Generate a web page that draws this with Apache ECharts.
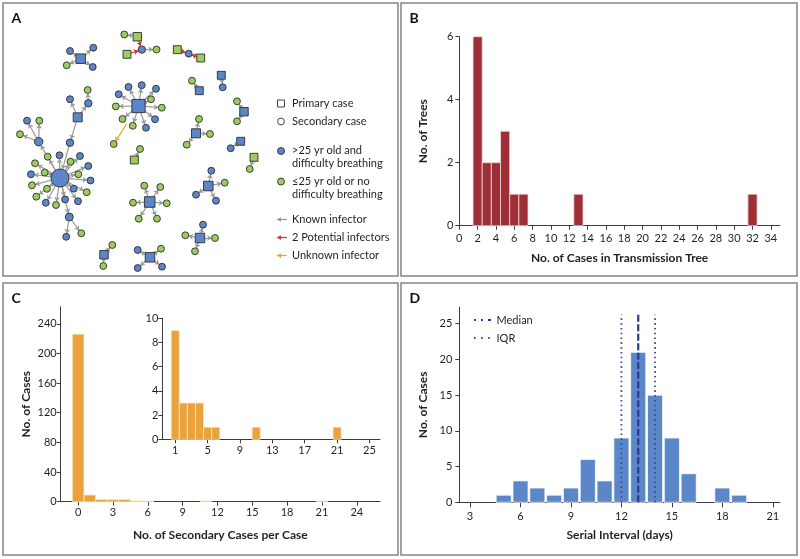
<!DOCTYPE html>
<html><head><meta charset="utf-8">
<script src="https://cdn.jsdelivr.net/npm/echarts@6/dist/echarts.min.js"></script>
<style>html,body{margin:0;padding:0;background:#fff}#c{width:800px;height:559px}</style>
</head><body><div id="c"></div>
<script>
// ---------- Panel B: size of transmission trees ----------
const treeSizes  = [2, 3, 4, 5, 6, 7, 13, 32];
const treeCounts = [6, 2, 2, 3, 1, 1, 1, 1];
const bTicksX = [0,2,4,6,8,10,12,14,16,18,20,22,24,26,28,30,32,34];
const bTicksY = [0,2,4,6];

// ---------- Panel C: secondary cases per case ----------
const secCases  = [0, 1, 2, 3, 4, 5, 6, 11, 21];
const secCounts = [226, 9, 3, 3, 3, 1, 1, 1, 1];
const cTicksX = [0,3,6,9,12,15,18,21,24];
const cTicksY = [0,40,80,120,160,200,240];
const insetTicksX = [1,5,9,13,17,21,25];
const insetTicksY = [0,2,4,6,8,10];

// ---------- Panel D: serial interval ----------
const serialDays   = [5, 6, 7, 8, 9, 10, 11, 12, 13, 14, 15, 16, 17, 18, 19];
const serialCounts = [1, 3, 2, 1, 2, 6, 3, 9, 21, 15, 9, 4, 0, 2, 1];
const medianDay = 13;
const iqrDays = [12, 14];
const dTicksX = [3,6,9,12,15,18,21];
const dTicksY = [0,5,10,15,20,25];

// ---------- Panel A: transmission network (layout coordinates) ----------
// [id, layoutX, layoutY, P=primary/S=secondary/U=unknown source, B=>25 yr & difficulty breathing / G=other]
const netNodes = [
 ['a1',80.7,58.7,'P','B'],['a2',70,51,'S','B'],['a3',93.3,47.7,'S','B'],['a4',66.7,65.3,'S','G'],['a5',92.7,67,'S','B'],
 ['b1',137.3,36.7,'P','G'],['b2',124.3,34.5,'S','G'],['b3',141.8,49.6,'S','B'],['b4',127,54.3,'P','G'],['b5',156.5,49.5,'S','G'],
 ['c1',177.3,49.7,'P','G'],['c2',188.7,53.7,'S','B'],['c3',200.7,58,'P','G'],
 ['d1',199.3,90.7,'P','B'],['d2',192,80.7,'S','G'],
 ['e1',221.3,75.3,'P','B'],['e2',222.7,87.3,'S','B'],
 ['f1',244,111.7,'P','B'],['f2',237,101.3,'S','G'],['f3',237,121.3,'S','G'],
 ['g1',196,133.3,'P','B'],['g2',199,119,'S','G'],['g3',210,134,'S','G'],['g4',186.7,144.7,'S','G'],
 ['h1',240.7,141.3,'P','B'],['h2',230.7,148.3,'S','B'],
 ['i1',254,157.3,'P','G'],['i2',249.7,169,'S','G'],
 ['j1',208.3,186,'P','B'],['j2',211.3,170.7,'S','B'],['j3',224.7,182.7,'S','G'],['j4',196,194.7,'S','B'],['j5',216,200.7,'S','B'],
 ['k1',200,238,'P','B'],['k2',203,224.7,'S','B'],['k3',215,238,'S','G'],['k4',185.3,235.3,'S','G'],['k5',195,251.3,'S','G'],
 ['l1',150,257.3,'P','B'],['l2',161,248.7,'S','G'],['l3',137.7,250,'S','B'],['l4',137.7,268,'S','B'],['l5',162,266.7,'S','B'],
 ['m1',104,254.7,'P','B'],['m2',112.3,245,'S','G'],['m3',103.3,266,'S','G'],
 ['n1',149.7,202,'P','B'],['n2',144.3,185.7,'S','G'],['n3',160.3,187,'S','G'],['n4',133,202.7,'S','G'],['n5',166.7,203.3,'S','G'],['n6',138.7,218.7,'S','G'],['n7',157,218.7,'S','G'],
 ['o1',134.3,160,'P','G'],['o2',140,149,'S','G'],
 ['p0',138.5,106,'P','B'],['p1',128.5,87,'S','B'],['p2',141.7,85.2,'S','B'],['p3',156,88.8,'S','B'],['p4',118.7,94.3,'S','B'],
 ['p5',151,99.3,'S','G'],['p6',115.8,106.4,'S','G'],['p7',161.8,107.7,'S','G'],['p8',122.5,119,'S','G'],['p9',132.8,125.8,'S','G'],
 ['p10',146,127.8,'S','B'],['p11',155,119.2,'S','B'],
 ['q0',126.5,124,'U','B'],['q1',113.7,144,'S','G'],
 ['r1',77.7,117.3,'P','B'],['r2',70,99.2,'S','B'],['r3',88.3,103.3,'S','B'],['r4',87.7,90,'S','G'],['r5',70,142.7,'S','B'],
 ['r6',60,178,'S','B'],['r7',38.7,141.7,'S','B'],['r8',27,120.7,'S','B'],['r9',39.3,120.7,'S','G'],['r10',20,134.2,'S','G'],
 ['s1',47.7,156.7,'S','G'],['s2',59.5,155.3,'S','B'],['s3',80,156,'S','B'],['s4',70.5,161.7,'S','G'],['s5',35,163.3,'S','G'],
 ['s6',44.7,172.5,'S','G'],['s7',88.3,166,'S','B'],['s8',78.3,174.3,'S','G'],['s9',31,174.3,'S','B'],['s10',90.5,180.5,'S','B'],
 ['s11',32,185.3,'S','G'],['s12',47,188.8,'S','G'],['s13',73.8,188.7,'S','B'],['s14',86.7,192.2,'S','G'],['s15',36.3,196.7,'S','G'],
 ['s16',65.1,199.5,'S','B'],['s17',78,201.2,'S','B'],['s18',45.8,202.8,'S','B'],['s19',56,205,'S','G'],['s20',69.3,217,'S','B'],
 ['t1',66.2,236.8,'S','B'],['t2',81.3,233.3,'S','G']
];
// [infector, infectee, K=known / P=2 potential infectors / U=unknown infector]
const netLinks = [
 ['a1','a2','K'],['a1','a3','K'],['a1','a4','K'],['a1','a5','K'],
 ['b1','b2','K'],['b1','b3','P'],['b4','b3','P'],['b3','b5','K'],
 ['c1','c2','P'],['c3','c2','P'],
 ['d1','d2','K'],['e1','e2','K'],['f1','f2','K'],['f1','f3','K'],
 ['g1','g2','K'],['g1','g3','K'],['g1','g4','K'],['h1','h2','K'],['i1','i2','K'],
 ['j1','j2','K'],['j1','j3','K'],['j1','j4','K'],['j1','j5','K'],
 ['k1','k2','K'],['k1','k3','K'],['k1','k4','K'],['k1','k5','K'],
 ['l1','l2','K'],['l1','l3','K'],['l1','l4','K'],['l1','l5','K'],
 ['m1','m2','K'],['m1','m3','K'],
 ['n1','n2','K'],['n1','n3','K'],['n1','n4','K'],['n1','n5','K'],['n1','n6','K'],['n1','n7','K'],
 ['o1','o2','K'],
 ['p0','p1','K'],['p0','p2','K'],['p0','p3','K'],['p0','p4','K'],['p0','p5','K'],['p0','p6','K'],
 ['p0','p7','K'],['p0','p8','K'],['p0','p9','K'],['p0','p10','K'],['p0','p11','K'],
 ['q0','q1','U'],
 ['r1','r2','K'],['r1','r3','K'],['r3','r4','K'],['r1','r5','K'],['r5','r6','K'],
 ['r6','r7','K'],['r7','r8','K'],['r7','r9','K'],['r7','r10','K'],
 ['r6','s1','K'],['r6','s2','K'],['r6','s3','K'],['r6','s4','K'],['r6','s5','K'],['r6','s6','K'],['r6','s7','K'],
 ['r6','s8','K'],['r6','s9','K'],['r6','s10','K'],['r6','s11','K'],['r6','s12','K'],['r6','s13','K'],['r6','s14','K'],
 ['r6','s15','K'],['r6','s16','K'],['r6','s17','K'],['r6','s18','K'],['r6','s19','K'],['r6','s20','K'],
 ['s20','t1','K'],['s20','t2','K']
];

// ---------- styling ----------
const FONT = 'Lato';
const AXIS_COL = '#3c3c3c';
const LBL_COL = '#231f20';
const BLUE_NODE = '#5b86c8', GREEN_NODE = '#9dcb5d';
const LINK_COL = {K:'#999999', P:'#d0312d', U:'#f0a030'};
const BAR_B = '#9e2f37', BAR_C = '#e9a23c', BAR_D = '#5b87c8';
const TICK_FS = 11, NAME_FS = 12;

const idIndex = {};
netNodes.forEach((n, i) => idIndex[n[0]] = i);
const outDeg = netNodes.map(() => 0);
netLinks.forEach(l => { if (l[2] !== 'U') outDeg[idIndex[l[0]]]++; });

const graphData = netNodes.map((n, i) => {
  const isU = n[3] === 'U';
  const isP = n[3] === 'P';
  const size = (isP ? 7.4 : 6.9) + 0.53 * outDeg[i];
  return {
    name: n[0],
    value: [n[1], n[2]],
    symbol: isP ? 'rect' : 'circle',
    symbolSize: isU ? 0.1 : size,
    itemStyle: isU ? {opacity: 0} : {
      color: n[4] === 'B' ? BLUE_NODE : GREEN_NODE,
      borderColor: '#2e2e2e', borderWidth: 0.9
    }
  };
});
const graphLinks = netLinks.map(l => ({
  source: idIndex[l[0]], target: idIndex[l[1]],
  lineStyle: {color: LINK_COL[l[2]], width: 1.2, opacity: 1}
}));

function lbl(ticks, margin) {
  return {customValues: ticks, color: LBL_COL, fontSize: TICK_FS, fontFamily: FONT, margin: margin};
}
function axisCommon(ticks, extra) {
  return Object.assign({
    type: 'value',
    splitLine: {show: false},
    axisLine: {show: true, onZero: false, lineStyle: {color: AXIS_COL, width: 1}},
    axisTick: {show: true, length: 4, customValues: ticks, lineStyle: {color: AXIS_COL, width: 1}},
    axisLabel: lbl(ticks, 6),
    nameTextStyle: {color: LBL_COL, fontSize: NAME_FS, fontWeight: 'bold', fontFamily: FONT},
    nameLocation: 'middle'
  }, extra);
}

function barRenderer(widthFrac, color, stroke) {
  return function (params, api) {
    const x = api.value(0), y = api.value(1);
    if (!y) return null;
    const p0 = api.coord([x - widthFrac / 2, y]);
    const p1 = api.coord([x + widthFrac / 2, 0]);
    return {
      type: 'rect',
      shape: {x: p0[0], y: p0[1], width: p1[0] - p0[0], height: p1[1] - p0[1]},
      style: {fill: color, stroke: stroke, lineWidth: 0.8}
    };
  };
}

const bData = treeSizes.map((s, i) => [s, treeCounts[i]]);
const cData = secCases.map((s, i) => [s, secCounts[i]]);
const insetData = cData.filter(d => d[0] >= 1);
const dData = serialDays.map((s, i) => [s, serialCounts[i]]);

const refTop = 26.3;

const option = {
  animation: false,
  backgroundColor: '#fff',
  textStyle: {fontFamily: FONT},
  grid: [
    {left: 0, top: 0, width: 400, height: 280},
    {left: 459.3, right: 20, top: 36.7, bottom: 333.3},
    {left: 60.7, right: 420, top: 306.7, bottom: 57.3},
    {left: 162.3, right: 420, top: 318.3, bottom: 119.7},
    {left: 459.3, right: 20, top: 307.3, bottom: 56.7}
  ],
  xAxis: [
    {type: 'value', gridIndex: 0, min: 0, max: 400, show: false},
    axisCommon(bTicksX, {gridIndex: 1, min: 0, max: 35, name: 'No. of Cases in Transmission Tree', nameGap: 26, axisLabel: lbl(bTicksX, 7)}),
    axisCommon(cTicksX, {gridIndex: 2, min: -1.5, max: 26, name: 'No. of Secondary Cases per Case', nameGap: 27, axisLabel: lbl(cTicksX, 5)}),
    axisCommon(insetTicksX, {gridIndex: 3, min: -0.6, max: 26.3, axisLabel: lbl(insetTicksX, 6)}),
    axisCommon(dTicksX, {gridIndex: 4, min: 2.36, max: 21.43, name: 'Serial Interval (days)', nameGap: 27, axisTick: {show: true, length: 5, customValues: dTicksX, lineStyle: {color: AXIS_COL}}, axisLabel: lbl(dTicksX, 9)})
  ],
  yAxis: [
    {type: 'value', gridIndex: 0, min: 0, max: 280, inverse: true, show: false},
    axisCommon(bTicksY, {gridIndex: 1, min: 0, max: 6, name: 'No. of Trees', nameGap: 30}),
    axisCommon(cTicksY, {gridIndex: 2, min: 0, max: 263, name: 'No. of Cases', nameGap: 29, axisLabel: lbl(cTicksY, 4)}),
    axisCommon(insetTicksY, {gridIndex: 3, min: 0, max: 10, axisLabel: lbl(insetTicksY, 4)}),
    axisCommon(dTicksY, {gridIndex: 4, min: 0, max: 27.3, name: 'No. of Cases', nameGap: 30, axisLabel: lbl(dTicksY, 7)})
  ],
  series: [
    {
      type: 'graph', coordinateSystem: 'cartesian2d', xAxisIndex: 0, yAxisIndex: 0,
      layout: 'none', roam: false,
      edgeSymbol: ['none', 'arrow'], edgeSymbolSize: [0, 4.5],
      data: graphData, links: graphLinks,
      label: {show: false}, emphasis: {disabled: true}, z: 3
    },
    {type: 'custom', xAxisIndex: 1, yAxisIndex: 1, data: bData, encode: {x: 0, y: 1}, renderItem: barRenderer(1, BAR_B, '#f3dada')},
    {type: 'custom', xAxisIndex: 2, yAxisIndex: 2, data: cData, encode: {x: 0, y: 1}, renderItem: barRenderer(1, BAR_C, '#fbe6c6')},
    {type: 'custom', xAxisIndex: 3, yAxisIndex: 3, data: insetData, encode: {x: 0, y: 1}, renderItem: barRenderer(1, BAR_C, '#fbe6c6')},
    {type: 'custom', xAxisIndex: 4, yAxisIndex: 4, data: dData, encode: {x: 0, y: 1}, renderItem: barRenderer(0.9, BAR_D, '#ffffff')},
    {type: 'line', xAxisIndex: 4, yAxisIndex: 4, symbol: 'none', z: 5,
     data: [[medianDay, 0], [medianDay, refTop]],
     lineStyle: {color: '#2b3a8f', width: 2.2, type: [7, 2.5]}},
    ...iqrDays.map(d => ({type: 'line', xAxisIndex: 4, yAxisIndex: 4, symbol: 'none', z: 5,
     data: [[d, 0], [d, refTop]],
     lineStyle: {color: '#3a4aa0', width: 1.8, type: [1.6, 3.2]}}))
  ],
  graphic: [
    // panel frames
    {type: 'rect', shape: {x: 3, y: 3, width: 395, height: 273}, style: {fill: 'none', stroke: '#848484', lineWidth: 1.5}, silent: true},
    {type: 'rect', shape: {x: 401, y: 3, width: 396, height: 273}, style: {fill: 'none', stroke: '#848484', lineWidth: 1.5}, silent: true},
    {type: 'rect', shape: {x: 3, y: 283, width: 395, height: 272}, style: {fill: 'none', stroke: '#848484', lineWidth: 1.5}, silent: true},
    {type: 'rect', shape: {x: 401, y: 283, width: 396, height: 272}, style: {fill: 'none', stroke: '#848484', lineWidth: 1.5}, silent: true},
    // panel letters
    {type: 'text', x: 11.5, y: 11, style: {text: 'A', font: 'bold 14px ' + FONT, fill: '#111'}},
    {type: 'text', x: 409.5, y: 11, style: {text: 'B', font: 'bold 14px ' + FONT, fill: '#111'}},
    {type: 'text', x: 11.5, y: 291, style: {text: 'C', font: 'bold 14px ' + FONT, fill: '#111'}},
    {type: 'text', x: 409.5, y: 291, style: {text: 'D', font: 'bold 14px ' + FONT, fill: '#111'}},
    // Panel A legend
    {type: 'rect', shape: {x: 277.5, y: 100, width: 7, height: 7}, style: {fill: '#fff', stroke: '#444', lineWidth: 1}},
    {type: 'circle', shape: {cx: 281, cy: 121.5, r: 3.4}, style: {fill: '#fff', stroke: '#444', lineWidth: 1}},
    {type: 'circle', shape: {cx: 281, cy: 151, r: 3.5}, style: {fill: BLUE_NODE, stroke: '#2e2e2e', lineWidth: 0.9}},
    {type: 'circle', shape: {cx: 281, cy: 181.5, r: 3.5}, style: {fill: GREEN_NODE, stroke: '#2e2e2e', lineWidth: 0.9}},
    {type: 'line', shape: {x1: 280, y1: 219.5, x2: 287, y2: 219.5}, style: {stroke: LINK_COL.K, lineWidth: 1.2}},
    {type: 'polygon', shape: {points: [[276.5, 219.5], [281, 217.3], [281, 221.7]]}, style: {fill: LINK_COL.K}},
    {type: 'line', shape: {x1: 280, y1: 237.5, x2: 287, y2: 237.5}, style: {stroke: LINK_COL.P, lineWidth: 1.2}},
    {type: 'polygon', shape: {points: [[276.5, 237.5], [281, 235.3], [281, 239.7]]}, style: {fill: LINK_COL.P}},
    {type: 'line', shape: {x1: 280, y1: 255.5, x2: 287, y2: 255.5}, style: {stroke: LINK_COL.U, lineWidth: 1.2}},
    {type: 'polygon', shape: {points: [[276.5, 255.5], [281, 253.3], [281, 257.7]]}, style: {fill: LINK_COL.U}},
    {type: 'text', x: 292, y: 103.5, style: {text: 'Primary case', font: '11px ' + FONT, fill: '#231f20', verticalAlign: 'middle'}},
    {type: 'text', x: 292, y: 121.5, style: {text: 'Secondary case', font: '11px ' + FONT, fill: '#231f20', verticalAlign: 'middle'}},
    {type: 'text', x: 292, y: 150.2, style: {text: '>25 yr old and', font: '11px ' + FONT, fill: '#231f20', verticalAlign: 'middle'}},
    {type: 'text', x: 292, y: 163.5, style: {text: 'difficulty breathing', font: '11px ' + FONT, fill: '#231f20', verticalAlign: 'middle'}},
    {type: 'text', x: 292, y: 181.2, style: {text: '\u226425 yr old or no', font: '11px ' + FONT, fill: '#231f20', verticalAlign: 'middle'}},
    {type: 'text', x: 292, y: 194.5, style: {text: 'difficulty breathing', font: '11px ' + FONT, fill: '#231f20', verticalAlign: 'middle'}},
    {type: 'text', x: 292, y: 219.5, style: {text: 'Known infector', font: '11px ' + FONT, fill: '#231f20', verticalAlign: 'middle'}},
    {type: 'text', x: 292, y: 237.5, style: {text: '2 Potential infectors', font: '11px ' + FONT, fill: '#231f20', verticalAlign: 'middle'}},
    {type: 'text', x: 292, y: 255.5, style: {text: 'Unknown infector', font: '11px ' + FONT, fill: '#231f20', verticalAlign: 'middle'}},
    // Panel D legend
    {type: 'line', shape: {x1: 474, y1: 320, x2: 491, y2: 320}, style: {stroke: '#2b3a8f', lineWidth: 1.8, lineDash: [2, 5, 2, 5, 6]}},
    {type: 'line', shape: {x1: 474, y1: 338, x2: 491, y2: 338}, style: {stroke: '#3a4aa0', lineWidth: 1.8, lineDash: [1.6, 5.5]}},
    {type: 'text', x: 496.5, y: 320, style: {text: 'Median', font: '11px ' + FONT, fill: '#231f20', verticalAlign: 'middle'}},
    {type: 'text', x: 496.5, y: 338, style: {text: 'IQR', font: '11px ' + FONT, fill: '#231f20', verticalAlign: 'middle'}}
  ]
};

const chart = echarts.init(document.getElementById('c'), null, {renderer: 'canvas'});
chart.setOption(option);
</script>
</body></html>
